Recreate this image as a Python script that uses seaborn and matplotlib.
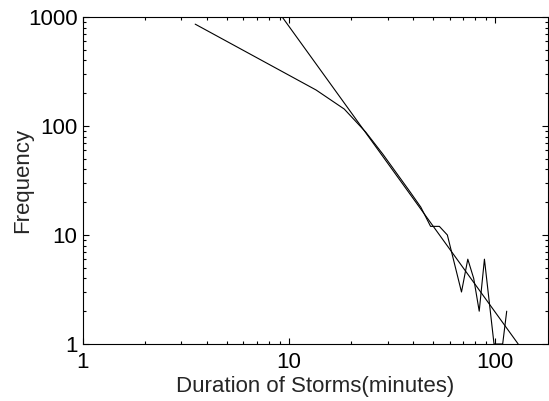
import seaborn as sns
import numpy as np
import matplotlib.pyplot as plt
import matplotlib.ticker as mticker
import pandas as pd

# storm duration histogram
duration = [3.5, 13.5, 18.5, 23.5, 28.5, 33.5, 38.5, 43.5, 48.5, 53.5,
            58.5, 68.5, 73.5, 78.5, 83.5, 88.5, 98.5, 108.5, 113.5]
frequency = [860, 214, 143, 88, 55, 36, 25, 18, 12, 12,
             10, 3, 6, 4, 2, 6, 1, 1, 2]

# power law fit, end points where it leaves the box
fit_x = [9.25, 129]
fit_y = [1000, 1]

x_ticks = [1, 10, 100]
y_ticks = [1, 10, 100, 1000]

sns.set_style("ticks", rc={'axes.edgecolor': 'k',
                           'axes.facecolor': 'w',
                           'axes.grid': False,
                           'figure.facecolor': 'w',
                           'xtick.direction': 'in',
                           'ytick.direction': 'in',
                           'xtick.top': True,
                           'ytick.right': True,
                           'xtick.color': 'k',
                           'ytick.color': 'k'})
plt.rcParams['font.family'] = ['Liberation Sans', 'DejaVu Sans']
plt.rcParams['axes.linewidth'] = 0.8

df = pd.DataFrame({'duration': duration, 'frequency': frequency})
df_fit = pd.DataFrame({'x': fit_x, 'y': fit_y})

fig = plt.figure(figsize=(5.49, 4.01), dpi=100)
ax = fig.add_axes([83 / 549, 1 - 344 / 401, 465 / 549, 327 / 401])

sns.lineplot(data=df, x='duration', y='frequency', color='k', lw=0.8, ax=ax)
sns.lineplot(data=df_fit, x='x', y='y', color='k', lw=0.8, ax=ax)

ax.set_xscale('log')
ax.set_yscale('log')
ax.set_xlim(1, 180)
ax.set_ylim(1, 1000)

fmt = mticker.FuncFormatter(lambda v, p: '%g' % v)
ax.xaxis.set_major_locator(mticker.FixedLocator(x_ticks))
ax.yaxis.set_major_locator(mticker.FixedLocator(y_ticks))
ax.xaxis.set_major_formatter(fmt)
ax.yaxis.set_major_formatter(fmt)
ax.xaxis.set_minor_formatter(mticker.NullFormatter())
ax.yaxis.set_minor_formatter(mticker.NullFormatter())

ax.tick_params(which='both', direction='in', top=True, right=True, labelsize=16, width=0.8)
ax.tick_params(which='major', length=4)
ax.tick_params(which='minor', length=2.5)
ax.tick_params(axis='x', pad=6)
ax.tick_params(axis='y', pad=4)

ax.set_xlabel('Duration of Storms(minutes)', fontsize=16)
ax.set_ylabel('Frequency', fontsize=16)
ax.xaxis.set_label_coords(0.5, -0.097)
ax.yaxis.set_label_coords(-0.108, 0.5)

fig.savefig('out.png', dpi=100)
